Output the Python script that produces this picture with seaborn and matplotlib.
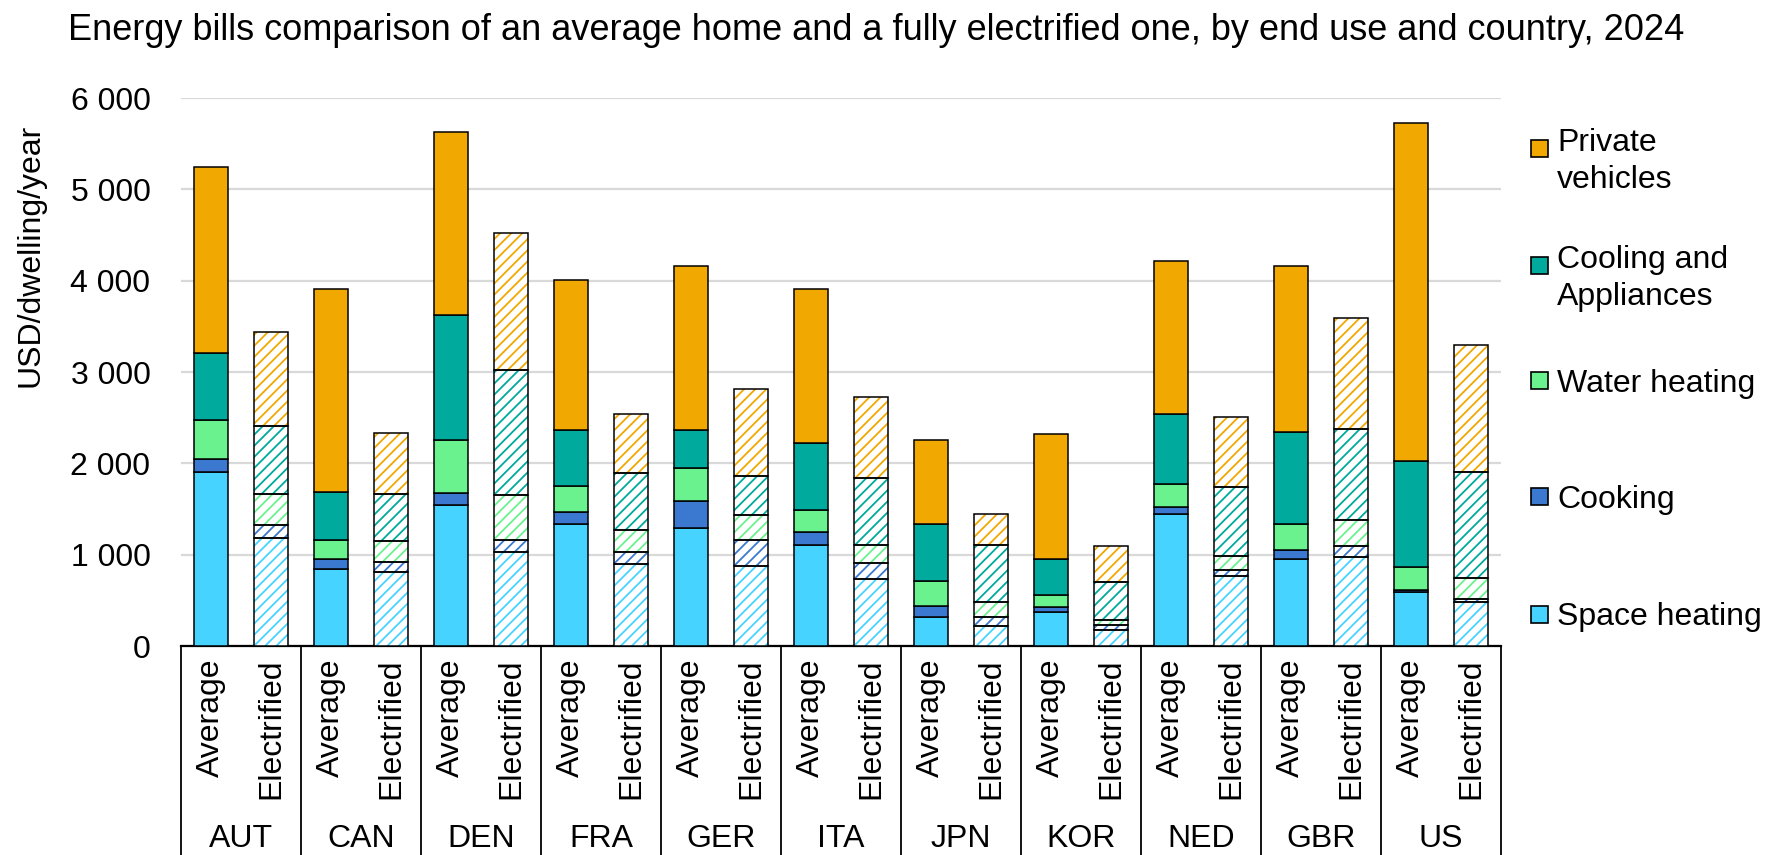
import numpy as np
import matplotlib.pyplot as plt
import matplotlib.transforms as mtransforms
from matplotlib.patches import Rectangle
from matplotlib.ticker import FuncFormatter
import seaborn as sns

# ---------------- DATA (USD/dwelling/year) ----------------
countries = ["AUT", "CAN", "DEN", "FRA", "GER", "ITA", "JPN", "KOR", "NED", "GBR", "US"]
home_types = ["Average", "Electrified"]
end_uses = ["Space heating", "Cooking", "Water heating", "Cooling and Appliances", "Private vehicles"]
legend_labels = ["Private\nvehicles", "Cooling and\nAppliances", "Water heating", "Cooking", "Space heating"]

space_avg = [1905, 844, 1543, 1335, 1291, 1106, 322, 377, 1448, 953, 586]
cooking_avg = [145, 109, 131, 128, 299, 142, 118, 55, 77, 102, 29]
water_avg = [420, 211, 583, 284, 354, 237, 267, 121, 251, 280, 249]
cooling_avg = [740, 517, 1370, 619, 422, 736, 634, 403, 762, 1009, 1162]
vehicles_avg = [2035, 2230, 2000, 1640, 1800, 1693, 912, 1366, 1679, 1818, 3703]

space_el = [1186, 810, 1033, 894, 873, 735, 223, 176, 763, 971, 487]
cooking_el = [138, 106, 124, 139, 291, 175, 99, 55, 69, 120, 29]
water_el = [335, 230, 491, 233, 269, 195, 158, 55, 153, 288, 228]
cooling_el = [751, 513, 1370, 627, 427, 733, 630, 414, 758, 1001, 1161]
vehicles_el = [1030, 671, 1509, 648, 954, 893, 337, 392, 769, 1210, 1391]

colors = ["#47D3FF", "#3B78D0", "#6AF28F", "#00AA9C", "#F1A800"]

# ---------------- STYLE ----------------
sns.set_theme(style="white")
plt.rcParams["font.family"] = ["Liberation Sans", "DejaVu Sans"]
plt.rcParams["hatch.linewidth"] = 1.3
FS = 23

W, H = 1781, 855
fig = plt.figure(figsize=(W / 100, H / 100), dpi=100)
ax = fig.add_axes([181 / W, 209 / H, 1320 / W, 548 / H])

avg_layers = [space_avg, cooking_avg, water_avg, cooling_avg, vehicles_avg]
el_layers = [space_el, cooking_el, water_el, cooling_el, vehicles_el]

x_avg = np.arange(len(countries)) * 2
x_el = x_avg + 1
width = 0.57

bottom = np.zeros(len(countries))
for vals, col in zip(avg_layers, colors):
    ax.bar(x_avg, vals, width, bottom=bottom, color=col, edgecolor="black", linewidth=1.1, zorder=3)
    bottom += np.array(vals)

bottom = np.zeros(len(countries))
for vals, col in zip(el_layers, colors):
    # coloured hatch on white, then black outline on top
    ax.bar(x_el, vals, width, bottom=bottom, facecolor="white", edgecolor=col, hatch="///",
           linewidth=0, zorder=3)
    ax.bar(x_el, vals, width, bottom=bottom, fill=False, edgecolor="black", linewidth=1.1, zorder=4)
    bottom += np.array(vals)

# ---------------- AXES ----------------
ax.set_xlim(-0.5, len(countries) * 2 - 0.5)
ax.set_ylim(0, 6000)
ax.set_yticks(range(0, 6001, 1000))
ax.yaxis.set_major_formatter(FuncFormatter(lambda v, p: f"{int(v):,}".replace(",", " ")))
ax.tick_params(axis="y", length=0, pad=22, labelsize=FS, colors="black")
ax.set_xticks([])
ax.yaxis.grid(True, color="#D9D9D9", linewidth=1.6)
ax.set_axisbelow(True)
for s in ["left", "right", "top"]:
    ax.spines[s].set_visible(False)
ax.spines["bottom"].set_color("black")
ax.spines["bottom"].set_linewidth(1.6)

# multi-level category axis
trans = mtransforms.blended_transform_factory(ax.transData, ax.transAxes)
for k in range(len(countries) + 1):
    xs = -0.5 + 2 * k
    ax.plot([xs, xs], [0, -0.39], transform=trans, color="black", lw=1.3, clip_on=False)
for i, c in enumerate(countries):
    for j, ht in enumerate(home_types):
        ax.text(x_avg[i] + j, -0.022, ht, rotation=90, ha="center", va="top",
                transform=trans, fontsize=FS, color="black")
    ax.text(x_avg[i] + 0.5, -0.367, c, ha="center", va="baseline",
            transform=trans, fontsize=FS, color="black")

# title and axis title
fig.text(68 / W, 1 - 40 / H,
         "Energy bills comparison of an average home and a fully electrified one, by end use and country, 2024",
         fontsize=26, ha="left", va="baseline", color="black")
fig.text(31 / W, 1 - 255 / H, "USD/dwelling/year", rotation=90, ha="center", va="center",
         fontsize=FS, color="black")

# legend (top entry = top of stack)
leg_y = [148, 265, 381, 497, 614]
for lab, col, yc in zip(legend_labels, colors[::-1], leg_y):
    fig.add_artist(Rectangle((1531 / W, 1 - (yc + 8.5) / H), 17 / W, 17 / H,
                             facecolor=col, edgecolor="black", lw=1.2, transform=fig.transFigure))
    if "\n" in lab:
        fig.text(1557 / W, 1 - (yc - 20) / H, lab, fontsize=FS, ha="left", va="top",
                 color="black", linespacing=1.3)
    else:
        fig.text(1557 / W, 1 - (yc + 11) / H, lab, fontsize=FS, ha="left", va="baseline",
                 color="black")

fig.savefig("out.png", dpi=100)
